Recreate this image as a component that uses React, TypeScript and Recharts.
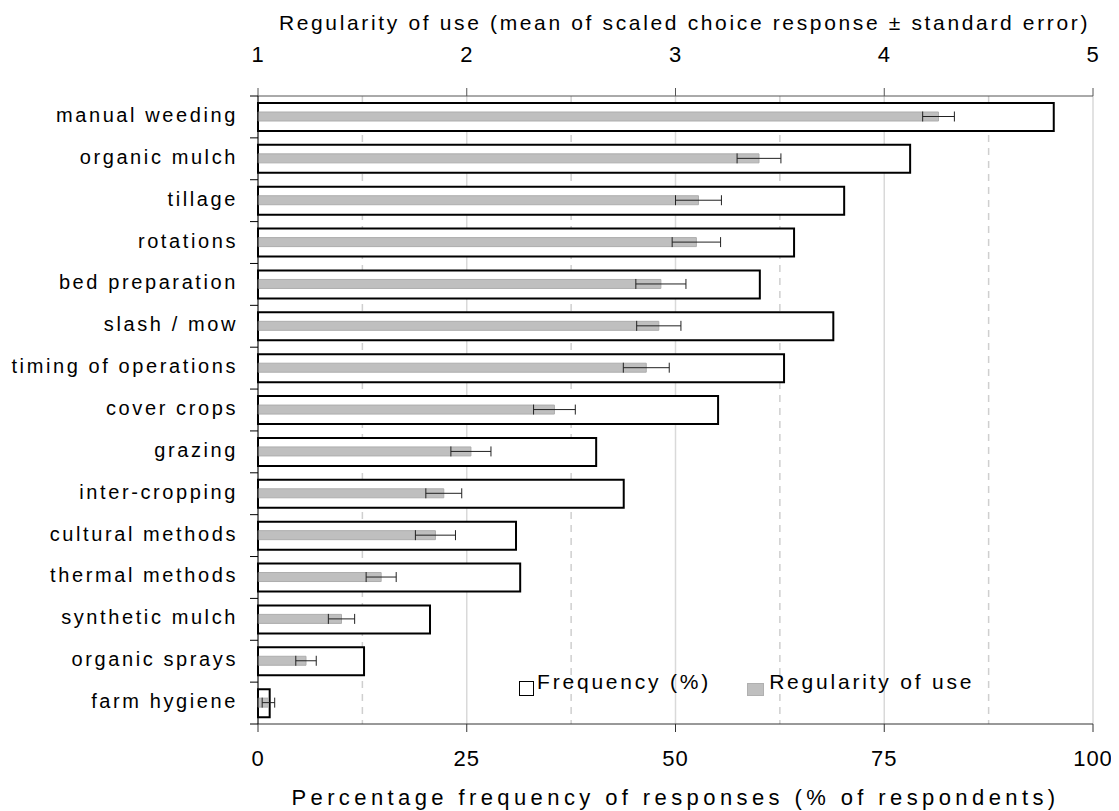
import React from 'react';
import {
  BarChart,
  Bar,
  XAxis,
  YAxis,
  CartesianGrid,
  ErrorBar,
  Legend
} from 'recharts';

// Weed-control methods, top to bottom
const categories = [
  'manual weeding',
  'organic mulch',
  'tillage',
  'rotations',
  'bed preparation',
  'slash / mow',
  'timing of operations',
  'cover crops',
  'grazing',
  'inter-cropping',
  'cultural methods',
  'thermal methods',
  'synthetic mulch',
  'organic sprays',
  'farm hygiene'
];

// Percentage of respondents (bottom axis)
const frequency = [95.3, 78.1, 70.2, 64.2, 60.1, 68.9, 63.0, 55.1, 40.5, 43.8, 30.9, 31.4, 20.6, 12.7, 1.4];

// Mean scaled choice response (top axis) and its standard error
const regularity = [4.26, 3.4, 3.11, 3.1, 2.93, 2.92, 2.86, 2.42, 2.02, 1.89, 1.85, 1.59, 1.4, 1.23, 1.05];
const stdError = [0.076, 0.105, 0.11, 0.116, 0.12, 0.106, 0.11, 0.1, 0.096, 0.086, 0.096, 0.072, 0.063, 0.049, 0.03];

const freqTicks = [0, 25, 50, 75, 100];
const regTicks = [1, 2, 3, 4, 5];
const minorTicks = [12.5, 37.5, 62.5, 87.5];

const CHART_W = 1111;
const CHART_H = 803;
const TOP_AXIS_H = 88;
const BOTTOM_AXIS_H = 87;
const PLOT_H = CHART_H - TOP_AXIS_H - BOTTOM_AXIS_H;
const BAND = PLOT_H / categories.length;

const data = categories.map((name, i) => ({
  name,
  freq: frequency[i],
  reg: regularity[i],
  se: stdError[i]
}));

// category label plus an Excel-style tick on the band boundary
const CategoryTick = (props: any) => {
  const { x, y, payload, index } = props;
  const axisX = x + 20;
  return (
    <g>
      <line x1={axisX - 8} x2={axisX} y1={y - BAND / 2} y2={y - BAND / 2} stroke="#000" />
      {index === categories.length - 1 && (
        <line x1={axisX - 8} x2={axisX} y1={y + BAND / 2} y2={y + BAND / 2} stroke="#000" />
      )}
      <text x={x} y={y} dy={5} textAnchor="end" fill="#000" fontSize={20} letterSpacing={2.6}>
        {payload.value}
      </text>
    </g>
  );
};

const LegendBox = () => (
  <div
    style={{
      display: 'flex',
      alignItems: 'flex-end',
      whiteSpace: 'nowrap',
      color: '#000',
      fontSize: 21,
      letterSpacing: '2.8px'
    }}
  >
    <span
      style={{
        display: 'inline-block',
        width: 13,
        height: 13,
        border: '1.5px solid #000',
        background: '#fff',
        marginRight: 3
      }}
    />
    <span style={{ marginRight: 36, lineHeight: '20px', position: 'relative', top: -4 }}>Frequency (%)</span>
    <span
      style={{
        display: 'inline-block',
        width: 15,
        height: 11,
        background: '#bfbfbf',
        border: '1px solid #b0b0b0',
        marginRight: 5
      }}
    />
    <span style={{ lineHeight: '20px', position: 'relative', top: -4 }}>Regularity of use</span>
  </div>
);

const App: React.FC = () => {
  return (
    <div
      style={{
        width: CHART_W,
        height: CHART_H,
        fontFamily: '"Liberation Sans", Arial, sans-serif',
        fontSize: 20
      }}
    >
      <BarChart
        width={CHART_W}
        height={CHART_H}
        data={data}
        layout="vertical"
        margin={{ top: 0, right: 26, bottom: 0, left: 0 }}
      >
        <CartesianGrid xAxisId="freq" yAxisId="cat" horizontal={false} stroke="#d9d9d9" strokeWidth={1.5} />
        <CartesianGrid
          xAxisId="freq"
          yAxisId="cat"
          horizontal={false}
          verticalValues={minorTicks}
          stroke="#cfcfcf"
          strokeWidth={1.5}
          strokeDasharray="7 6"
        />
        <XAxis
          xAxisId="freq"
          type="number"
          orientation="bottom"
          domain={[0, 100]}
          ticks={freqTicks}
          height={BOTTOM_AXIS_H}
          tickSize={8}
          tickMargin={18}
          stroke="#333"
          tick={{ fill: '#000', fontSize: 22, letterSpacing: 1 }}
          label={{
            value: 'Percentage frequency of responses (% of respondents)',
            position: 'insideBottom',
            offset: 6,
            fill: '#000',
            fontSize: 22,
            letterSpacing: 4.4
          }}
        />
        <XAxis
          xAxisId="reg"
          type="number"
          orientation="top"
          domain={[1, 5]}
          ticks={regTicks}
          height={TOP_AXIS_H}
          tickSize={8}
          tickMargin={26}
          stroke="#555"
          tick={{ fill: '#000', fontSize: 22, letterSpacing: 1 }}
          label={{
            value: 'Regularity of use (mean of scaled choice response \u00b1 standard error)',
            position: 'insideTop',
            offset: 7,
            fill: '#000',
            fontSize: 21,
            letterSpacing: 2.65,
            dx: 9
          }}
        />
        <YAxis
          yAxisId="cat"
          type="category"
          dataKey="name"
          width={250}
          tickSize={8}
          tickMargin={12}
          tickLine={false}
          stroke="#000"
          interval={0}
          tick={<CategoryTick />}
        />
        <YAxis yAxisId="cat2" type="category" dataKey="name" hide />
        <Bar
          xAxisId="freq"
          yAxisId="cat"
          dataKey="freq"
          name="Frequency (%)"
          barSize={28}
          fill="#fff"
          stroke="#000"
          strokeWidth={2}
          isAnimationActive={false}
        />
        <Bar
          xAxisId="reg"
          yAxisId="cat2"
          dataKey="reg"
          name="Regularity of use"
          barSize={9}
          fill="#bfbfbf"
          stroke="#adadad"
          strokeWidth={1}
          isAnimationActive={false}
        >
          <ErrorBar dataKey="se" direction="x" width={5} stroke="#222" strokeWidth={1} />
        </Bar>
        <Legend
          layout="vertical"
          align="center"
          verticalAlign="middle"
          content={<LegendBox />}
          wrapperStyle={{ left: 511, top: 668, width: 'auto', height: 'auto' }}
        />
      </BarChart>
    </div>
  );
};

export default App;
